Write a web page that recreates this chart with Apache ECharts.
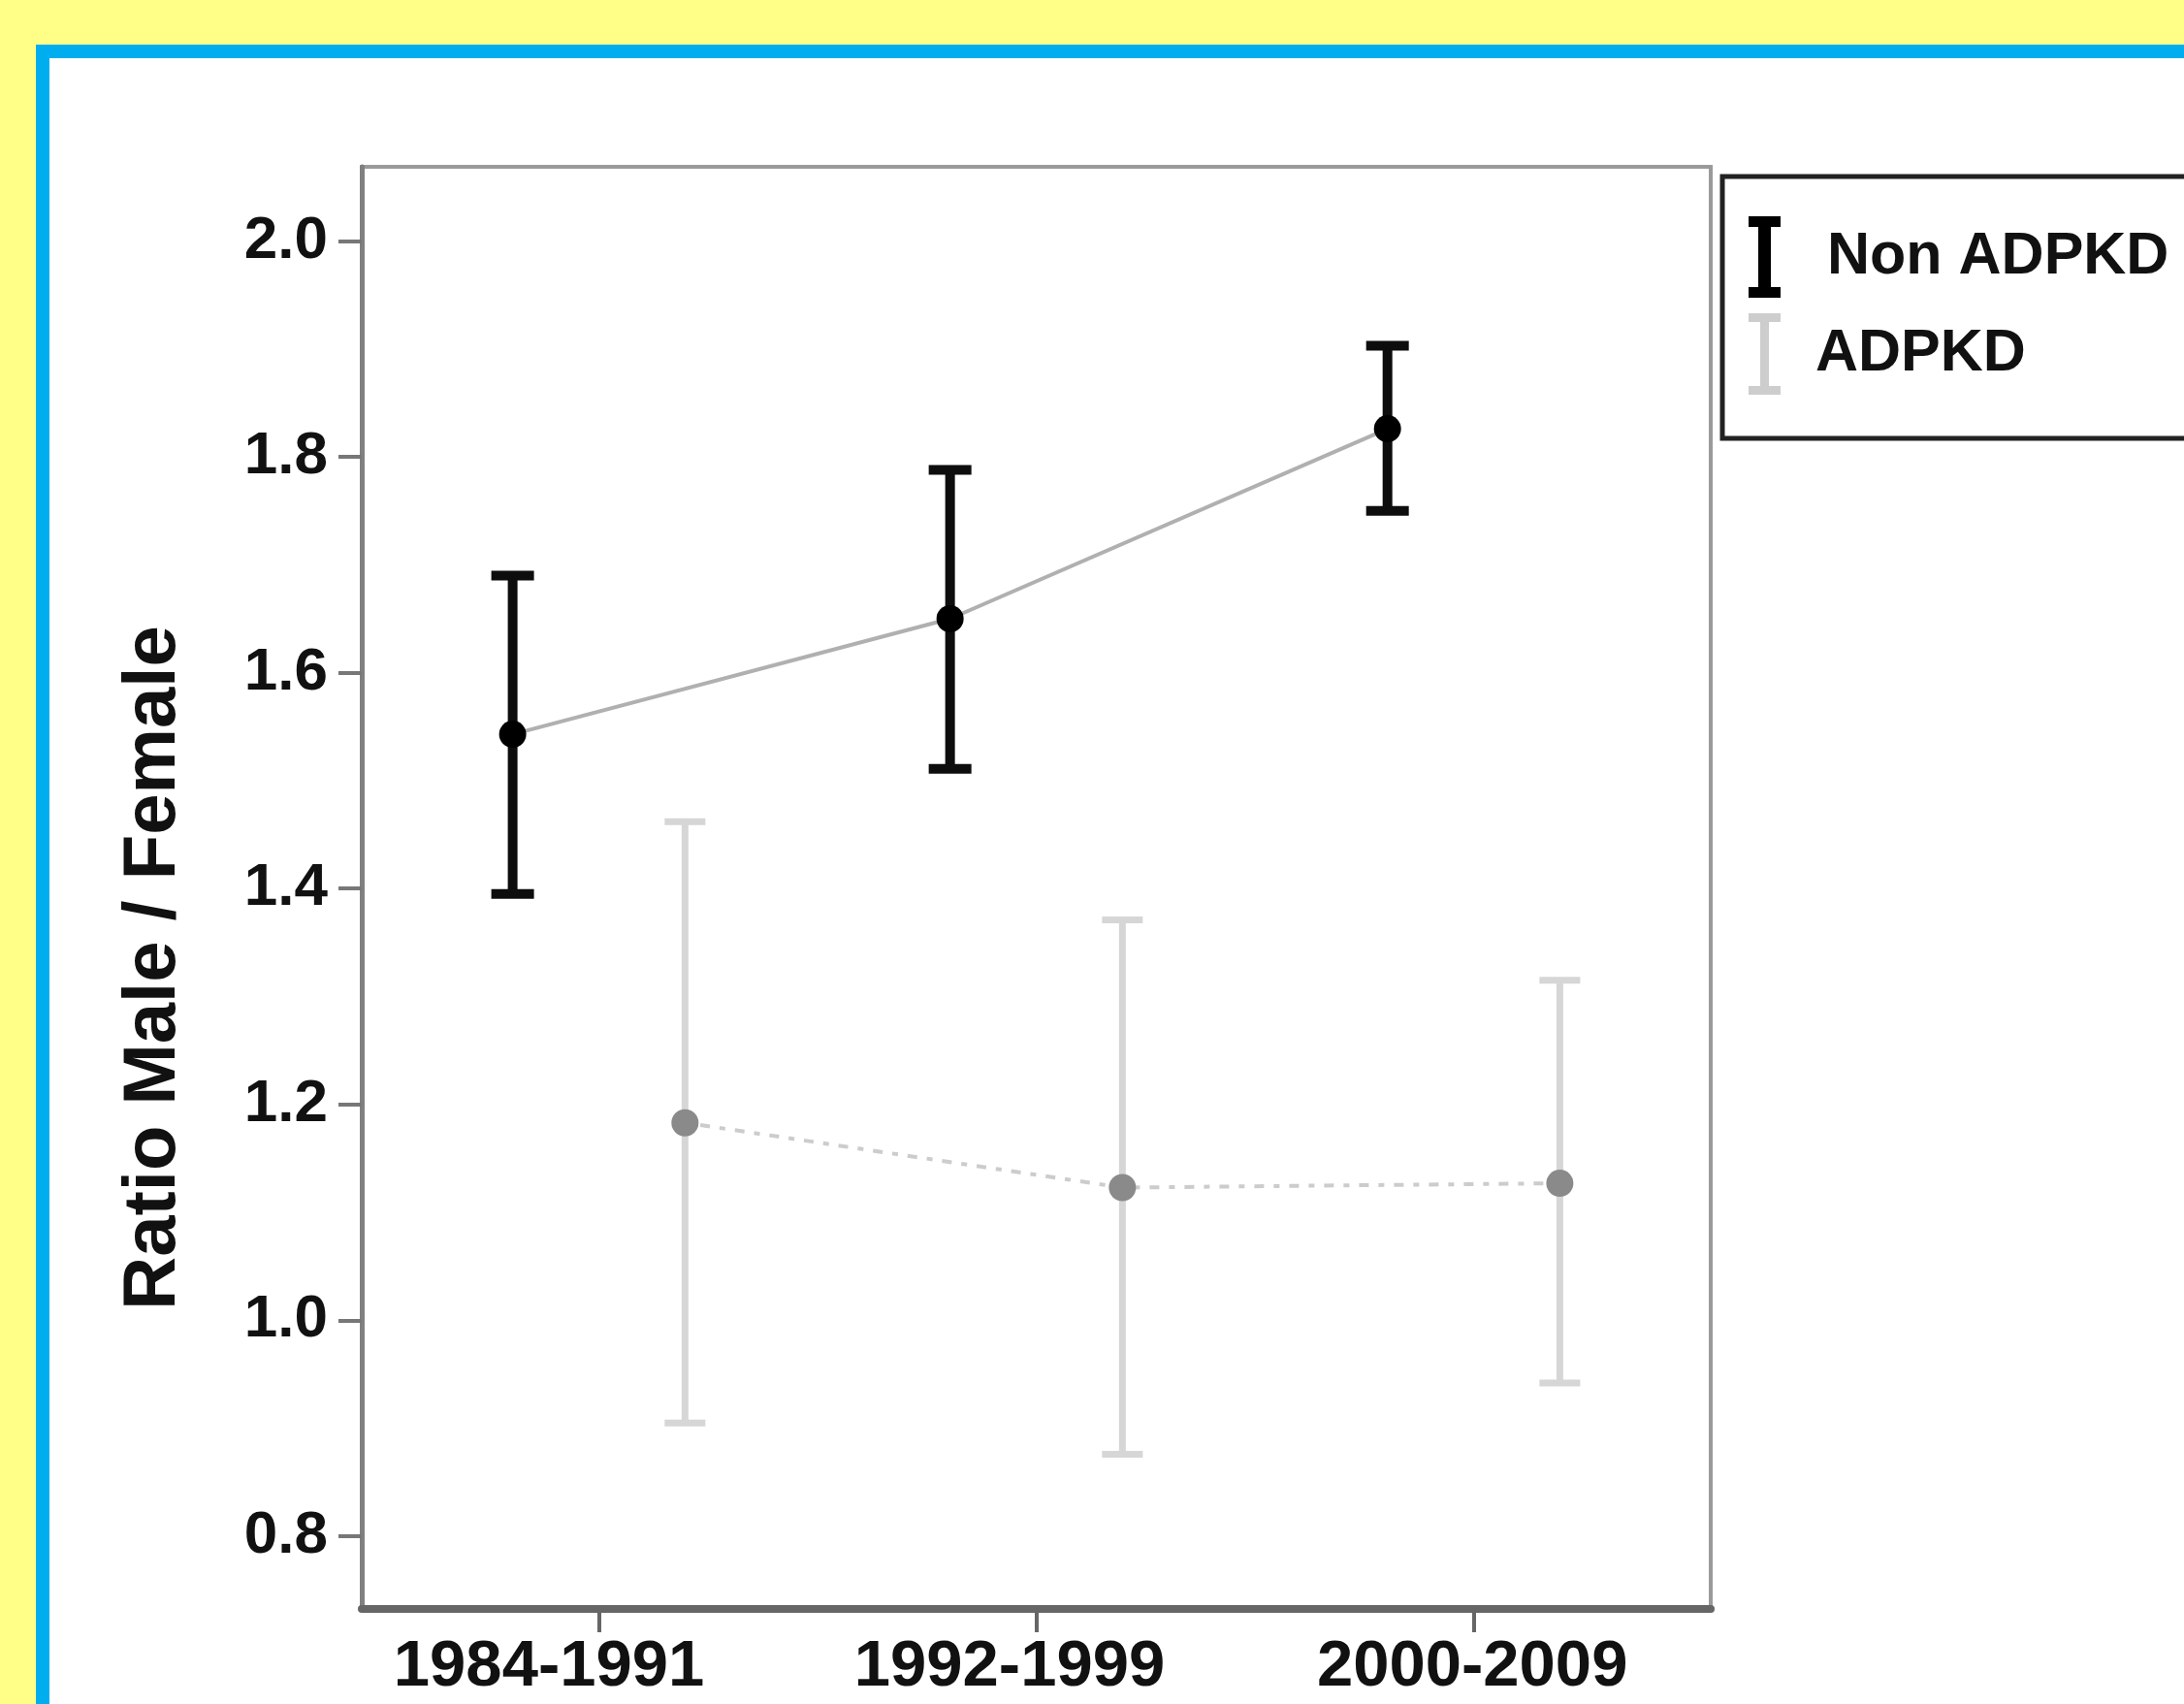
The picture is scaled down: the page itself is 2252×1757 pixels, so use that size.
<!DOCTYPE html>
<html>
<head>
<meta charset="utf-8">
<script src="https://cdn.jsdelivr.net/npm/echarts@6/dist/echarts.min.js"></script>
<style>
html,body{margin:0;padding:0;background:#FFFF88;}
#chart{width:2252px;height:1757px;}
</style>
</head>
<body>
<div id="chart"></div>
<script>
// ---- data ----
const categories = ['1984-1991', '1992-1999', '2000-2009'];
const nonAdpkdMean = [1.543, 1.650, 1.826];
const nonAdpkdLow  = [1.395, 1.511, 1.750];
const nonAdpkdHigh = [1.690, 1.788, 1.903];
const adpkdMean = [1.183, 1.123, 1.127];
const adpkdLow  = [0.905, 0.876, 0.942];
const adpkdHigh = [1.462, 1.371, 1.315];
const yTickValues = [0.8, 1.0, 1.2, 1.4, 1.6, 1.8, 2.0];
const seriesNames = ['Non ADPKD', 'ADPKD'];
const yTitle = 'Ratio Male / Female';

// ---- layout / style ----
const FONT = "'Liberation Sans', Arial, sans-serif";
const dodge = 0.197;                 // group offset within a category
const catPos = categories.map((c, i) => i + 1);
const labelPos = [0.886, 1.939, 2.997]; // label anchors (as drawn in original)

function errorBarSeries(name, offset, lows, highs, color, width, capW, z) {
  return {
    name: name,
    type: 'custom',
    z: z,
    itemStyle: { color: color },
    encode: { x: 0, y: [1, 2] },
    data: categories.map((c, i) => [catPos[i] + offset, lows[i], highs[i]]),
    renderItem: function (params, api) {
      const x = api.value(0);
      const pLo = api.coord([x, api.value(1)]);
      const pHi = api.coord([x, api.value(2)]);
      const hw = capW / 2;
      const st = { stroke: color, lineWidth: width, lineCap: 'butt' };
      return {
        type: 'group',
        children: [
          { type: 'line', shape: { x1: pLo[0], y1: pLo[1], x2: pHi[0], y2: pHi[1] }, style: st },
          { type: 'line', shape: { x1: pLo[0] - hw, y1: pLo[1], x2: pLo[0] + hw, y2: pLo[1] }, style: st },
          { type: 'line', shape: { x1: pHi[0] - hw, y1: pHi[1], x2: pHi[0] + hw, y2: pHi[1] }, style: st }
        ]
      };
    }
  };
}

const chart = echarts.init(document.getElementById('chart'), null, { renderer: 'canvas' });

const option = {
  backgroundColor: '#FFFF88',
  animation: false,
  textStyle: { fontFamily: FONT },
  graphic: [
    {
      type: 'rect', z: -100, silent: true,
      shape: { x: 44, y: 53, width: 3000, height: 3000 },
      style: { fill: '#ffffff', stroke: '#00AEEF', lineWidth: 14 }
    },
    {
      type: 'text', z: 10, silent: true,
      x: 159, y: 998, rotation: Math.PI / 2,
      style: {
        text: yTitle, fill: '#111111',
        font: 'bold 76px ' + FONT,
        align: 'center', verticalAlign: 'middle'
      }
    }
  ],
  grid: {
    left: 373, right: 488, top: 172, bottom: 98,
    show: true, borderColor: '#9a9a9a', borderWidth: 4,
    backgroundColor: 'transparent',
    containLabel: false, outerBoundsMode: 'none'
  },
  legend: {
    orient: 'vertical',
    left: 1776, top: 182,
    padding: [41, 80, 45, 27],
    itemWidth: 33, itemHeight: 84, itemGap: 16,
    borderColor: '#222222', borderWidth: 5,
    backgroundColor: '#ffffff',
    selectedMode: false,
    textStyle: { fontSize: 61, fontWeight: 'bold', color: '#111111', fontFamily: FONT },
    data: [
      {
        name: seriesNames[0],
        icon: 'path://M0,0H33V11H23V73H33V84H0V73H10V11H0Z',
        itemStyle: { color: '#000000', borderWidth: 0 },
        textStyle: { padding: [0, 0, 0, 43] }
      },
      {
        name: seriesNames[1],
        icon: 'path://M0,0H33V9H21V75H33V84H0V75H12V9H0Z',
        itemStyle: { color: '#cdcdcd', borderWidth: 0 },
        textStyle: { padding: [0, 0, 0, 31] }
      }
    ]
  },
  xAxis: {
    type: 'value',
    min: 0.458, max: 3.542,
    splitLine: { show: false },
    axisLine: { show: true, onZero: false, lineStyle: { color: '#666666', width: 8 } },
    axisTick: { show: true, length: 24, customValues: catPos, lineStyle: { color: '#666666', width: 4 } },
    axisLabel: {
      customValues: labelPos,
      margin: 27,
      fontSize: 67, fontWeight: 'bold', color: '#111111', fontFamily: FONT, lineHeight: 67,
      formatter: function (v) { return categories[Math.round(v) - 1] || ''; }
    }
  },
  yAxis: {
    type: 'value',
    min: 0.7326, max: 2.0687,
    splitLine: { show: false },
    axisLine: { show: true, onZero: false, lineStyle: { color: '#808080', width: 5 } },
    axisTick: { show: true, length: 24, customValues: yTickValues, lineStyle: { color: '#777777', width: 4 } },
    axisLabel: {
      customValues: yTickValues,
      margin: 35,
      fontSize: 62, fontWeight: 'bold', color: '#111111', fontFamily: FONT,
      formatter: function (v) { return v.toFixed(1); }
    }
  },
  series: [
    errorBarSeries(seriesNames[0], -dodge, nonAdpkdLow, nonAdpkdHigh, '#0d0d0d', 10, 44, 3),
    errorBarSeries(seriesNames[1], dodge, adpkdLow, adpkdHigh, '#d6d6d6', 7, 42, 3),
    {
      name: seriesNames[0],
      type: 'line',
      z: 4,
      data: categories.map((c, i) => [catPos[i] - dodge, nonAdpkdMean[i]]),
      symbol: 'circle', symbolSize: 28,
      itemStyle: { color: '#000000' },
      lineStyle: { color: '#b0b0b0', width: 4 }
    },
    {
      name: seriesNames[1],
      type: 'line',
      z: 4,
      data: categories.map((c, i) => [catPos[i] + dodge, adpkdMean[i]]),
      symbol: 'circle', symbolSize: 28,
      itemStyle: { color: '#8a8a8a' },
      lineStyle: { color: '#cccccc', width: 4, type: [6, 10, 10, 10] }
    }
  ]
};

chart.setOption(option);
</script>
</body>
</html>
